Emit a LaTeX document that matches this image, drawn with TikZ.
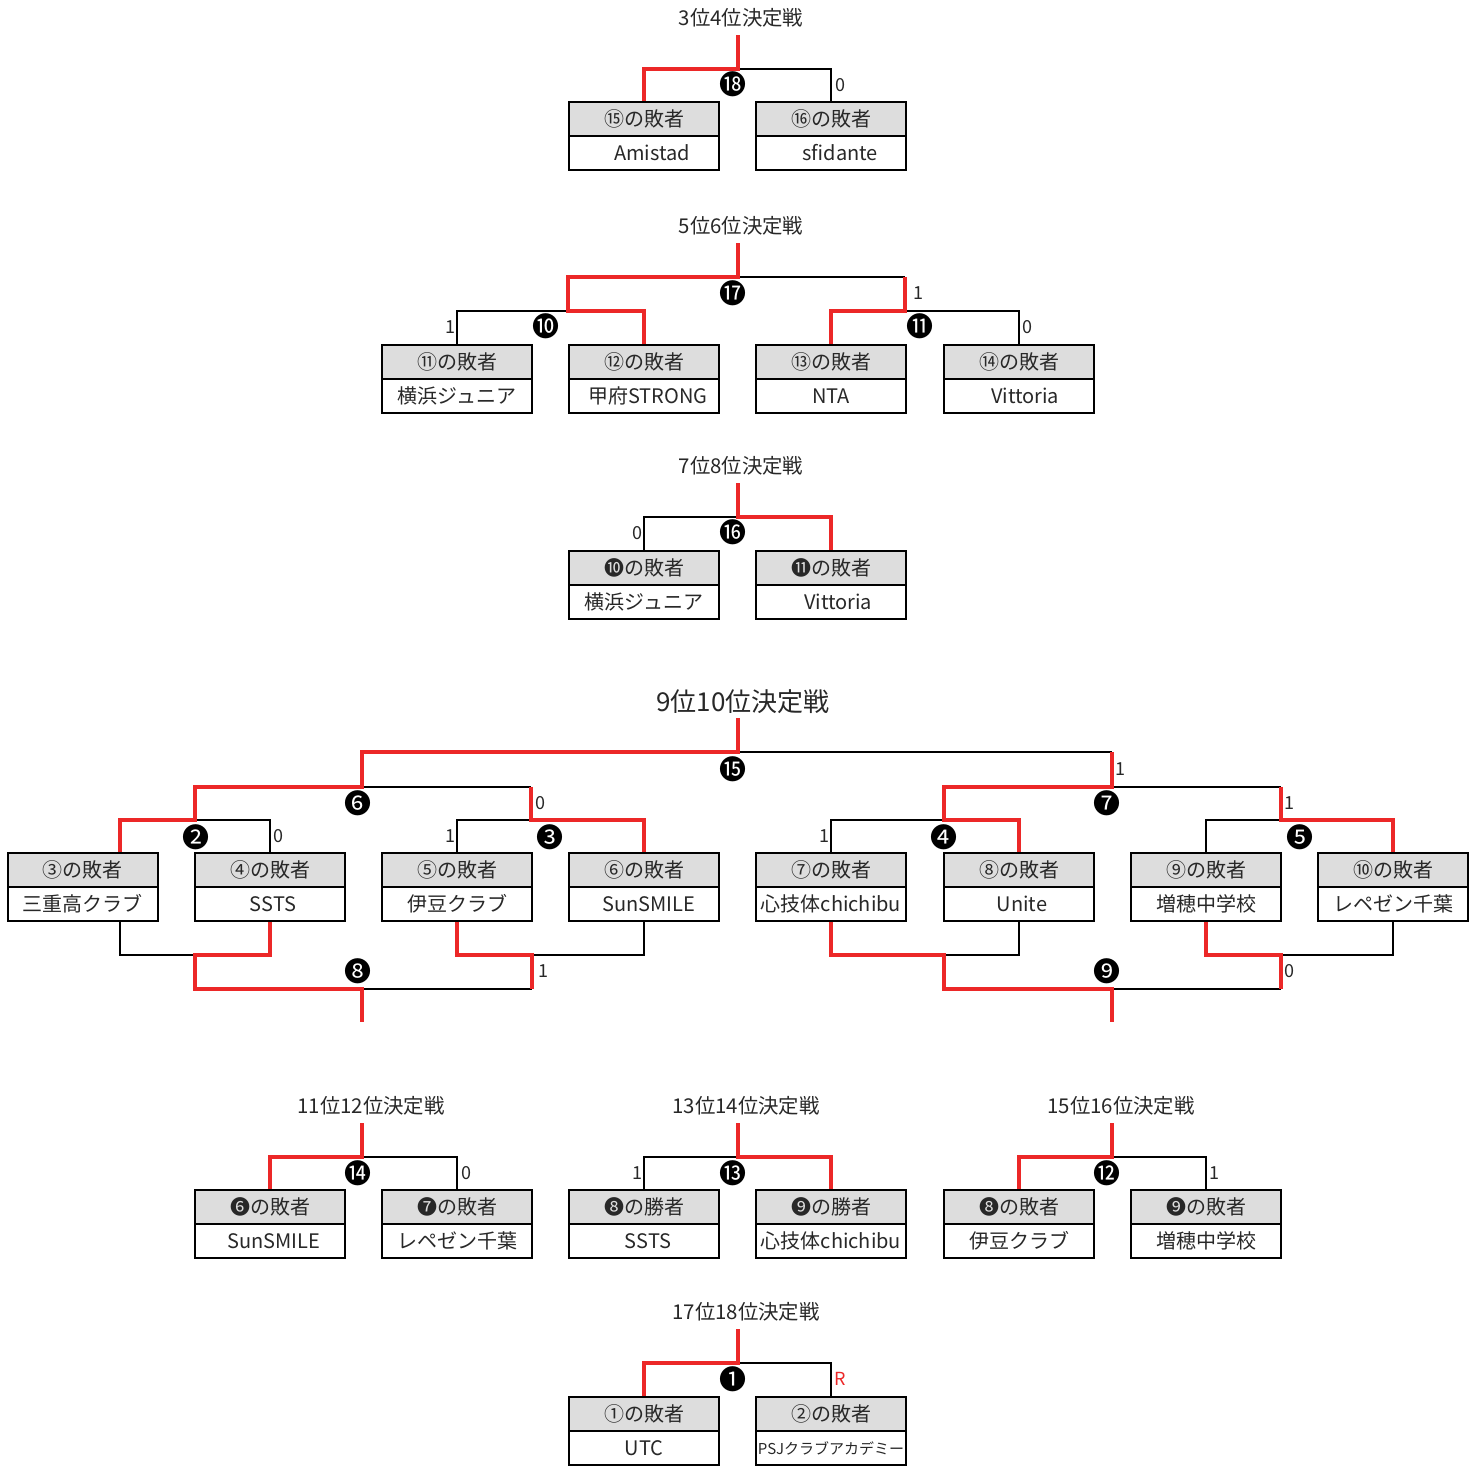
\documentclass[tikz,border=0pt]{standalone}
\usepackage{fontspec}
\setmainfont{Noto Sans CJK JP}
\definecolor{grigio}{RGB}{221,221,221}
\definecolor{rosso}{RGB}{236,40,40}
\definecolor{testo}{RGB}{40,40,40}
\newcommand{\squadra}[5]{%
  \node[testa] (#1) at (#2,#3) {#4};
  \node[nome] (#1n) at (#2,#3+34) {#5};}
\begin{document}
\begin{tikzpicture}[x=0.5pt, y=-0.5pt, text=testo,
    testa/.style={draw=black, line width=1pt, fill=grigio, minimum width=75pt, minimum height=17pt, inner sep=0pt, font=\fontsize{10}{12}\selectfont},
    nome/.style={testa, fill=white},
    perso/.style={line width=1pt},
    vinto/.style={draw=rosso, line width=1.6pt},
    partita/.style={inner sep=0pt, text=black, font=\fontsize{13.5}{14}\selectfont},
    punti/.style={inner sep=0pt, font=\fontsize{9}{9}\selectfont},
    titolo/.style={inner sep=0pt, font=\fontsize{10.2}{12}\selectfont}]
  \useasboundingbox (0,0) rectangle (1482,1466);

  % Titoli
  \node[titolo] (tit34) at (741,18) {3位4位決定戦};
  \node[titolo] (tit56) at (741,226) {5位6位決定戦};
  \node[titolo] (tit78) at (741,466) {7位8位決定戦};
  \node[titolo, font=\fontsize{13}{15}\selectfont] (tit910) at (743,702) {9位10位決定戦};
  \node[titolo] (tit1112) at (371,1106) {11位12位決定戦};
  \node[titolo] (tit1314) at (746,1106) {13位14位決定戦};
  \node[titolo] (tit1516) at (1121,1106) {15位16位決定戦};
  \node[titolo] (tit1718) at (746,1312) {17位18位決定戦};

  % Squadre
  \squadra{a1}{644}{119}{⑮の敗者}{\hspace{8pt}Amistad}
  \squadra{a2}{831}{119}{⑯の敗者}{\hspace{9pt}sfidante}

  \squadra{b1}{457}{362}{⑪の敗者}{横浜ジュニア}
  \squadra{b2}{644}{362}{⑫の敗者}{\hspace{4pt}甲府STRONG}
  \squadra{b3}{831}{362}{⑬の敗者}{NTA}
  \squadra{b4}{1019}{362}{⑭の敗者}{\hspace{6pt}Vittoria}

  \squadra{c1}{644}{568}{❿の敗者}{横浜ジュニア}
  \squadra{c2}{831}{568}{⓫の敗者}{\hspace{7pt}Vittoria}

  \squadra{d1}{82.5}{870}{③の敗者}{三重高クラブ}
  \squadra{d2}{270}{870}{④の敗者}{\hspace{3pt}SSTS}
  \squadra{d3}{457}{870}{⑤の敗者}{伊豆クラブ}
  \squadra{d4}{644}{870}{⑥の敗者}{\hspace{5pt}SunSMILE}
  \squadra{d5}{831}{870}{⑦の敗者}{心技体chichibu}
  \squadra{d6}{1019}{870}{⑧の敗者}{\hspace{3pt}Unite}
  \squadra{d7}{1206}{870}{⑨の敗者}{増穂中学校}
  \squadra{d8}{1393}{870}{⑩の敗者}{レペゼン千葉}

  \squadra{e1}{270}{1207}{❻の敗者}{\hspace{4pt}SunSMILE}
  \squadra{e2}{457}{1207}{❼の敗者}{レペゼン千葉}
  \squadra{f1}{644}{1207}{❽の勝者}{\hspace{4pt}SSTS}
  \squadra{f2}{831}{1207}{❾の勝者}{心技体chichibu}
  \squadra{g1}{1019}{1207}{❽の敗者}{伊豆クラブ}
  \squadra{g2}{1206}{1207}{❾の敗者}{増穂中学校}

  \squadra{h1}{644}{1414}{①の敗者}{UTC}
  \squadra{h2}{831}{1414}{②の敗者}{{\fontsize{7.5}{9}\selectfont PSJクラブアカデミー}}

  % Punti di incontro
  \coordinate (j18) at (738,69);   \coordinate (p18) at (738,35);
  \coordinate (j10) at (568,311);  \coordinate (j11) at (905,311);
  \coordinate (u11) at (905,277);
  \coordinate (j17) at (738,277);  \coordinate (p17) at (738,243);
  \coordinate (j16) at (738,517);  \coordinate (p16) at (738,483);
  \coordinate (j2) at (195,820);   \coordinate (j3) at (531,820);
  \coordinate (j4) at (944,820);   \coordinate (j5) at (1281,820);
  \coordinate (j6) at (362,787);   \coordinate (j7) at (1112,787);
  \coordinate (u3) at (531,787);   \coordinate (u7) at (1281,787);
  \coordinate (j15) at (738,752);  \coordinate (p15) at (738,718);
  \coordinate (u15) at (1112,752);
  \coordinate (v2) at (195,955);   \coordinate (v3) at (532,955);
  \coordinate (v4) at (944,955);   \coordinate (v5) at (1281,955);
  \coordinate (v8) at (362,989);   \coordinate (v9) at (1112,989);
  \coordinate (x8) at (532,989);   \coordinate (x9) at (1281,989);
  \coordinate (w8) at (362,1022);  \coordinate (w9) at (1112,1022);
  \coordinate (j14) at (362,1157); \coordinate (p14) at (362,1123);
  \coordinate (j13) at (738,1157); \coordinate (p13) at (738,1123);
  \coordinate (j12) at (1112,1157); \coordinate (p12) at (1112,1123);
  \coordinate (j1) at (738,1363);  \coordinate (p1) at (738,1329);

  % Linee nere
  \draw[perso] (a2.north) |- (j18);
  \draw[perso] (b1.north) |- (j10);
  \draw[perso] (b4.north) |- (j11);
  \draw[perso] (j17) -- (u11);
  \draw[perso] (c1.north) |- (j16);
  \draw[perso] (d2.north) |- (j2);
  \draw[perso] (d3.north) |- (j3);
  \draw[perso] (j6) -- (u3);
  \draw[perso] (d5.north) |- (j4);
  \draw[perso] (d7.north) |- (j5);
  \draw[perso] (j7) -- (u7);
  \draw[perso] (j15) -- (u15);
  \draw[perso] ([xshift=18.75pt]d1n.south) |- (v2);
  \draw[perso] (d4n.south) |- (v3);
  \draw[perso] (v8) -- (x8);
  \draw[perso] (d6n.south) |- (v4);
  \draw[perso] (d8n.south) |- (v5);
  \draw[perso] (v9) -- (x9);
  \draw[perso] (e2.north) |- (j14);
  \draw[perso] (f1.north) |- (j13);
  \draw[perso] (g2.north) |- (j12);
  \draw[perso] (h2.north) |- (j1);

  % Linee rosse
  \draw[vinto] (a1.north) |- (j18) -- (p18);
  \draw[vinto] (b2.north) |- (j10) |- (j17) -- (p17);
  \draw[vinto] (b3.north) |- (j11) -- (u11);
  \draw[vinto] (c2.north) |- (j16) -- (p16);
  \draw[vinto] ([xshift=18.75pt]d1.north) |- (j2) |- (j6) |- (j15) -- (p15);
  \draw[vinto] (d4.north) |- (j3) -- (u3);
  \draw[vinto] (d6.north) |- (j4) |- (j7) -- (u15);
  \draw[vinto] (d8.north) |- (j5) -- (u7);
  \draw[vinto] (d2n.south) |- (v2) |- (v8) -- (w8);
  \draw[vinto] (d3n.south) |- (v3) -- (x8);
  \draw[vinto] (d5n.south) |- (v4) |- (v9) -- (w9);
  \draw[vinto] (d7n.south) |- (v5) -- (x9);
  \draw[vinto] (e1.north) |- (j14) -- (p14);
  \draw[vinto] (f2.north) |- (j13) -- (p13);
  \draw[vinto] (g1.north) |- (j12) -- (p12);
  \draw[vinto] (h1.north) |- (j1) -- (p1);

  % Numeri delle partite
  \node[partita] (n18) at (733,84) {⓲};
  \node[partita] (n17) at (733,293) {⓱};
  \node[partita] (n10) at (546,326) {❿};
  \node[partita] (n11) at (920,326) {⓫};
  \node[partita] (n16) at (733,532) {⓰};
  \node[partita] (n15) at (733,769) {⓯};
  \node[partita] (n6) at (358,803) {❻};
  \node[partita] (n7) at (1107,803) {❼};
  \node[partita] (n2) at (196,837) {❷};
  \node[partita] (n3) at (550,837) {❸};
  \node[partita] (n4) at (944,837) {❹};
  \node[partita] (n5) at (1300,837) {❺};
  \node[partita] (n8) at (358,971) {❽};
  \node[partita] (n9) at (1107,971) {❾};
  \node[partita] (n14) at (358,1173) {⓮};
  \node[partita] (n13) at (733,1173) {⓭};
  \node[partita] (n12) at (1107,1173) {⓬};
  \node[partita] (n1) at (733,1379) {❶};

  % Punteggi
  \node[punti] (s18) at (840,85) {0};
  \node[punti] (s10) at (450,327) {1};
  \node[punti] (s17) at (918,293) {1};
  \node[punti] (s11) at (1027,327) {0};
  \node[punti] (s16) at (637,533) {0};
  \node[punti] (s15) at (1120,769) {1};
  \node[punti] (s6) at (540,803) {0};
  \node[punti] (s7) at (1289,803) {1};
  \node[punti] (s2) at (278,836) {0};
  \node[punti] (s3) at (450,836) {1};
  \node[punti] (s4) at (824,836) {1};
  \node[punti] (s8) at (543,971) {1};
  \node[punti] (s9) at (1289,971) {0};
  \node[punti] (s14) at (466,1173) {0};
  \node[punti] (s13) at (637,1173) {1};
  \node[punti] (s12) at (1214,1173) {1};
  \node[punti, text=rosso] (s1) at (840,1379) {R};
\end{tikzpicture}
\end{document}
